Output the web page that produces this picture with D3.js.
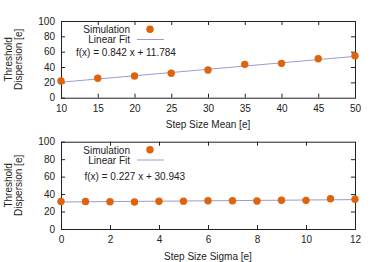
<!DOCTYPE html>
<html>
<head>
<meta charset="utf-8">
<title>Threshold Dispersion</title>
<script src="https://cdn.jsdelivr.net/npm/d3@7"></script>
<style>
  body { margin: 0; background: #fff; }
  text { font-family: "Liberation Sans", Arial, sans-serif; font-size: 10px; fill: #222; }
</style>
</head>
<body>
<script>
// step size mean panel
var meanX = [10, 15, 20, 25, 30, 35, 40, 45, 50];
var meanY = [21.8, 25.3, 28.3, 31.8, 36.1, 43.5, 44.8, 50.8, 54.8];
var meanFit = [0.842, 11.784];
var meanTicks = [10, 15, 20, 25, 30, 35, 40, 45, 50];

// step size sigma panel
var sigmaX = [0, 1, 2, 3, 4, 5, 6, 7, 8, 9, 10, 11, 12];
var sigmaY = [31.6, 31.6, 31.3, 30.9, 31.8, 31.9, 32.3, 32.4, 32.0, 33.0, 32.8, 34.6, 34.1];
var sigmaFit = [0.227, 30.943];
var sigmaTicks = [0, 2, 4, 6, 8, 10, 12];

var yTicks = [0, 20, 40, 60, 80, 100];

var W = 374, H = 262;
var dotColor = "#e0620a", fitColor = "#9c9ad6";

var svg = d3.select("body").append("svg")
    .attr("width", W)
    .attr("height", H);

function drawPanel(p) {
    var x = d3.scaleLinear().domain(p.xDomain).range([61, 355]);
    var y = d3.scaleLinear().domain([0, 100]).range([p.bottom, p.top]);
    var g = svg.append("g");

    // frame
    g.append("rect")
        .attr("x", 61.5).attr("y", p.top + 0.5)
        .attr("width", 294).attr("height", p.bottom - p.top)
        .attr("fill", "none").attr("stroke", "#222");

    // axes, ticks pointing inward
    var ax = [
        [d3.axisLeft(y).tickValues(yTicks).tickSizeInner(-4).tickPadding(6), 61, 0, true],
        [d3.axisRight(y).tickValues(yTicks.slice(1, -1)).tickSizeInner(-4), 355, 0, false],
        [d3.axisBottom(x).tickValues(p.ticks).tickSizeInner(-4).tickPadding(7), 0, p.bottom, true],
        [d3.axisTop(x).tickValues(p.ticks.slice(1, -1)).tickSizeInner(-4), 0, p.top, false]
    ];
    ax.forEach(function (a) {
        var ag = g.append("g")
            .attr("transform", "translate(" + a[1] + "," + a[2] + ")")
            .call(a[0].tickSizeOuter(0));
        ag.select(".domain").remove();
        ag.selectAll("line").attr("stroke", "#222");
        ag.selectAll("text").attr("font-size", null).attr("font-family", null);
        if (!a[3]) ag.selectAll("text").remove();
    });

    // fit line
    var fit = function (v) { return p.fit[0] * v + p.fit[1]; };
    g.append("path")
        .attr("d", d3.line()([[x(p.xDomain[0]), y(fit(p.xDomain[0]))],
                              [x(p.xDomain[1]), y(fit(p.xDomain[1]))]]))
        .attr("stroke", fitColor).attr("stroke-width", 1).attr("fill", "none");

    // simulation points
    g.selectAll("circle.pt")
        .data(p.xs)
        .enter().append("circle")
        .attr("class", "pt")
        .attr("cx", function (d) { return x(d); })
        .attr("cy", function (d, i) { return y(p.ys[i]); })
        .attr("r", 3.7)
        .attr("fill", dotColor);

    // key
    var ky = p.keyY;
    g.append("text").attr("x", 130).attr("y", ky).attr("text-anchor", "end").text("Simulation");
    g.append("circle").attr("cx", 150).attr("cy", ky - 3.8).attr("r", 3.7).attr("fill", dotColor);
    g.append("text").attr("x", 130).attr("y", ky + 10).attr("text-anchor", "end").text("Linear Fit");
    g.append("line")
        .attr("x1", 137).attr("x2", 164)
        .attr("y1", ky + 6.5).attr("y2", ky + 6.5)
        .attr("stroke", fitColor);
    g.append("text").attr("x", p.labelX).attr("y", p.labelY)
        .text("f(x) = " + p.fit[0].toFixed(3) + " x + " + p.fit[1].toFixed(3));

    // axis titles
    var cy = (p.top + p.bottom) / 2;
    g.append("text").attr("text-anchor", "middle")
        .attr("transform", "translate(12," + cy + ") rotate(-90)").text("Threshold");
    g.append("text").attr("text-anchor", "middle")
        .attr("transform", "translate(21.5," + cy + ") rotate(-90)").text("Dispersion [e]");
    g.append("text").attr("text-anchor", "middle")
        .attr("x", 208).attr("y", p.bottom + 30.5).text(p.xTitle);
}

drawPanel({
    xDomain: [10, 50], xs: meanX, ys: meanY, fit: meanFit, ticks: meanTicks,
    top: 21, bottom: 97.7, keyY: 33, labelX: 76, labelY: 55.5,
    xTitle: "Step Size Mean [e]"
});

drawPanel({
    xDomain: [0, 12], xs: sigmaX, ys: sigmaY, fit: sigmaFit, ticks: sigmaTicks,
    top: 141.7, bottom: 229, keyY: 153.5, labelX: 84.5, labelY: 179.5,
    xTitle: "Step Size Sigma [e]"
});
</script>
</body>
</html>
